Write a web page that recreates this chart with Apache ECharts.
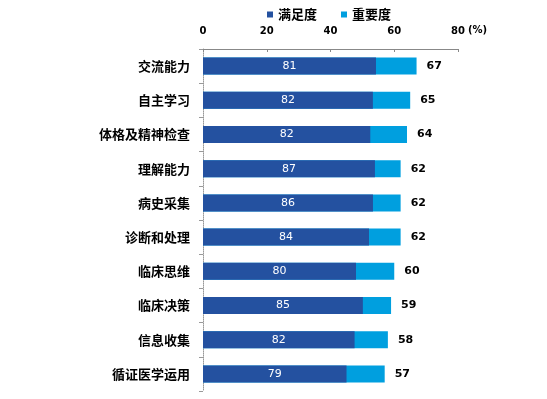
<!DOCTYPE html>
<html>
<head>
<meta charset="utf-8">
<script src="https://cdn.jsdelivr.net/npm/echarts@6/dist/echarts.min.js"></script>
<style>
html, body { margin: 0; padding: 0; background: #fff; }
#chart { width: 547px; height: 399px; }
</style>
</head>
<body>
<div id="chart"></div>
<script>
// 类别
var categories = ['交流能力', '自主学习', '体格及精神检查', '理解能力', '病史采集',
    '诊断和处理', '临床思维', '临床决策', '信息收集', '循证医学运用'];
// 满足度 (%)
var satisfaction = [81, 82, 82, 87, 86, 84, 80, 85, 82, 79];
// 重要度 (%)
var importance = [67, 65, 64, 62, 62, 62, 60, 59, 58, 57];
var xTicks = [0, 20, 40, 60, 80];

// 深色条 = 重要度 × 满足度
var satBar = importance.map(function (v, i) {
    return +(v * satisfaction[i] / 100).toFixed(2);
});

var myChart = echarts.init(document.getElementById('chart'));
var option = {
    animation: false,
    textStyle: { fontFamily: 'DejaVu Sans' },
    legend: {
        data: ['满足度', '重要度'],
        left: 262,
        top: 3,
        icon: 'rect',
        itemWidth: 6,
        itemHeight: 6,
        itemGap: 24,
        textStyle: { fontSize: 13, fontWeight: 'bold', color: '#000', fontFamily: 'Noto Sans CJK SC' }
    },
    grid: { left: 203, right: 89, top: 49, bottom: 8 },
    xAxis: {
        type: 'value',
        position: 'top',
        min: xTicks[0],
        max: xTicks[xTicks.length - 1],
        interval: 20,
        axisLine: { show: true, lineStyle: { color: '#888', width: 1 } },
        axisTick: { show: true, inside: true, length: 3, lineStyle: { color: '#888' } },
        splitLine: { show: false },
        axisLabel: { margin: 13, fontSize: 10, fontWeight: 'bold', color: '#000' }
    },
    yAxis: {
        type: 'category',
        data: categories,
        inverse: true,
        axisLine: { show: true, lineStyle: { color: '#999', type: 'dotted' } },
        axisTick: { show: true, length: 4, lineStyle: { color: '#999' } },
        axisLabel: { margin: 13, fontSize: 13, fontWeight: 'bold', color: '#000', fontFamily: 'Noto Sans CJK SC' }
    },
    graphic: [{
        type: 'text',
        left: 468,
        top: 25,
        style: { text: '(%)', fontSize: 10, fontWeight: 'bold', fill: '#000', fontFamily: 'DejaVu Sans' }
    }],
    series: [{
        name: '重要度',
        type: 'bar',
        data: importance,
        barWidth: 17,
        z: 1,
        itemStyle: { color: '#009FDF' },
        label: {
            show: true,
            position: 'right',
            distance: 10,
            fontSize: 11,
            fontWeight: 'bold',
            color: '#000'
        }
    }, {
        name: '满足度',
        type: 'bar',
        data: satBar,
        barWidth: 17,
        barGap: '-100%',
        z: 2,
        itemStyle: { color: '#2451A0' },
        label: {
            show: true,
            position: 'inside',
            fontSize: 11,
            color: '#fff',
            formatter: function (p) { return satisfaction[p.dataIndex]; }
        }
    }]
};
myChart.setOption(option);
</script>
</body>
</html>
